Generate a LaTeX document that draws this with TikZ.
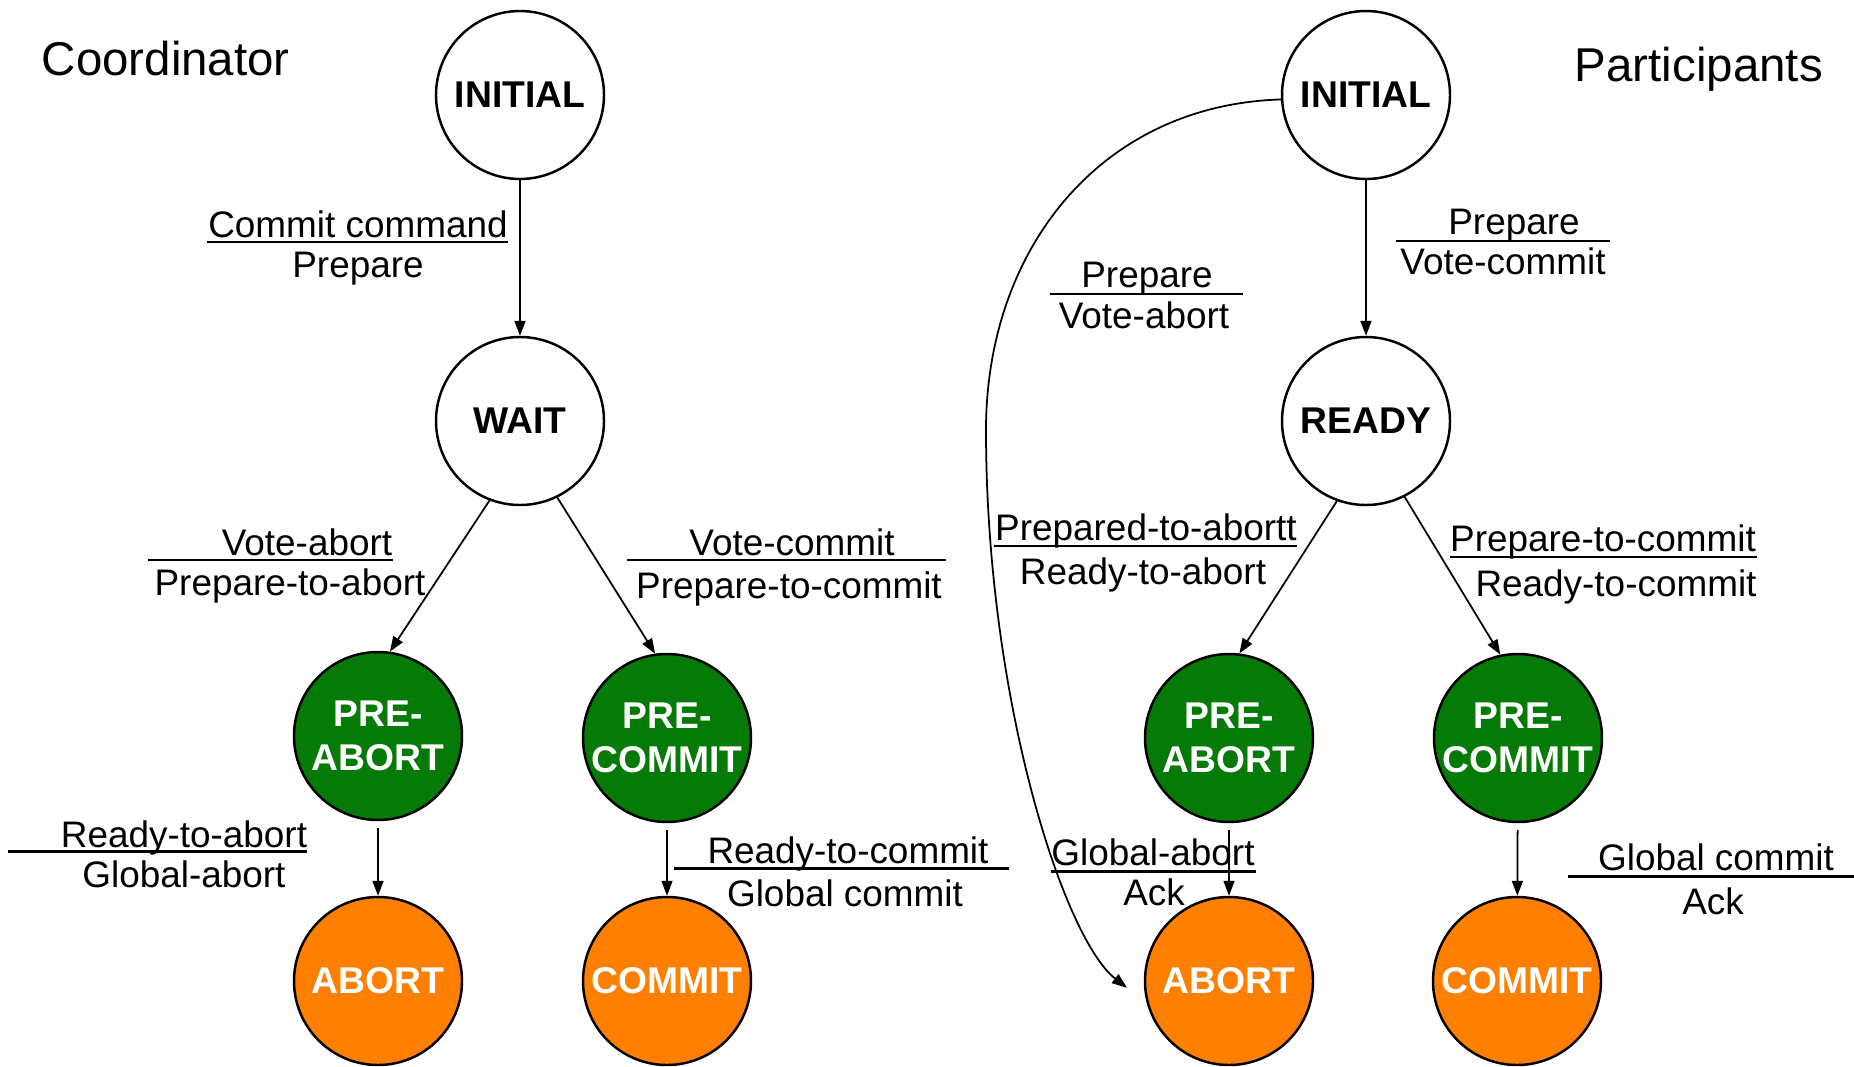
\documentclass[tikz,border=0pt]{standalone}
\usepackage{fontspec}
\setmainfont{Liberation Sans}
\usetikzlibrary{arrows.meta}
\definecolor{stategreen}{RGB}{6,122,6}
\definecolor{stateorange}{RGB}{255,128,0}
\tikzset{
  phase/.style={circle, draw=black, line width=0.7pt, minimum size=16.8mm, inner sep=0pt,
    align=center, font=\bfseries\fontsize{10.6}{12.5}\selectfont},
  prephase/.style={phase, fill=stategreen, text=white},
  endphase/.style={phase, fill=stateorange, text=white},
  msg/.style={font=\fontsize{10.5}{12}\selectfont, inner sep=0pt, text height=.95em, text depth=.23em},
  heading/.style={font=\fontsize{13.5}{16}\selectfont, anchor=west, inner sep=0pt},
  rule/.style={line width=0.85pt}
}
\begin{document}
\begin{tikzpicture}
[x=0.1mm, y=-0.1mm, >={Triangle[length=1.5mm,width=1.1mm]}, line width=0.5pt]
\useasboundingbox (0,0) rectangle (1854,1067);

\node[heading] (coord) at (41,59) {Coordinator};
\node[heading] (part) at (1574,69) {Participants};

% coordinator
\node[phase] (initL) at (520,95) {INITIAL};
\node[phase] (wait) at (520,421) {WAIT};
\node[prephase] (preabortL) at (378,736) {PRE-\\ABORT};
\node[prephase] (precommitL) at (667,738) {PRE-\\COMMIT};
\node[endphase] (abortL) at (378,981) {ABORT};
\node[endphase] (commitL) at (667,981) {COMMIT};

% participants
\node[phase] (initR) at (1366,95) {INITIAL};
\node[phase] (ready) at (1366,421) {READY};
\node[prephase] (preabortR) at (1229,738) {PRE-\\ABORT};
\node[prephase] (precommitR) at (1518,738) {PRE-\\COMMIT};
\node[endphase] (abortR) at (1229,981) {ABORT};
\node[endphase] (commitR) at (1517,981) {COMMIT};

\draw[->] (initL) -- (wait);
\draw[->] (wait.-111) -- (preabortL.82);
\draw[->] (wait.-64) -- (precommitL.98);
\draw[->, shorten <=0.7mm] (preabortL) -- (abortL);
\draw[->, shorten <=0.7mm] (precommitL) -- (commitL);

\draw[->] (initR) -- (ready);
\draw[->] (ready.-110) -- (preabortR.83);
\draw[->] (ready.-63) -- (precommitR.102);
\draw[->, shorten <=0.7mm] (preabortR) -- (abortR);
\draw[->, shorten <=0.7mm] (precommitR) -- (commitR);

\coordinate (bend) at (986,430);
\draw[->, shorten >=2.5mm] (initR.183) .. controls (1100,105) and (986,250) .. (bend)
  .. controls (986,700) and (1064,939) .. (abortR.195);

% labels
\node[msg] (l1a) at (358,225) {Commit command};
\node[msg] (l1b) at (358,265) {Prepare};
\draw[rule] (207,242) -- (508,242);

\node[msg] (l2a) at (307,543) {Vote-abort};
\node[msg] (l2b) at (290,583) {Prepare-to-abort};
\draw[rule] (148,560) -- (393,560);

\node[msg] (l3a) at (792,543) {Vote-commit};
\node[msg] (l3b) at (789,586) {Prepare-to-commit};
\draw[rule] (627,560) -- (946,560);

\node[msg] (l4a) at (184,835) {Ready-to-abort};
\node[msg] (l4b) at (184,875) {Global-abort};
\draw[rule] (8,851) -- (307,851);

\node[msg] (l5a) at (848,851) {Ready-to-commit};
\node[msg] (l5b) at (845,894) {Global commit};
\draw[rule] (674,868) -- (1009,868);

\node[msg] (r1a) at (1514,222) {Prepare};
\node[msg] (r1b) at (1503,262) {Vote-commit};
\draw[rule] (1396,241) -- (1610,241);

\node[msg] (r2a) at (1147,275) {Prepare};
\node[msg] (r2b) at (1144,316) {Vote-abort};
\draw[rule] (1050,294) -- (1243,294);

\node[msg] (r3a) at (1146,528) {Prepared-to-abortt};
\node[msg] (r3b) at (1143,572) {Ready-to-abort};
\draw[rule] (994,546) -- (1297,546);

\node[msg] (r4a) at (1603,539) {Prepare-to-commit};
\node[msg] (r4b) at (1616,584) {Ready-to-commit};
\draw[rule] (1450,557) -- (1757,557);

\node[msg] (r5a) at (1153,853) {Global-abort};
\node[msg] (r5b) at (1154,893) {Ack};
\draw[rule] (1051,871) -- (1256,871);

\node[msg] (r6a) at (1716,858) {Global commit};
\node[msg] (r6b) at (1713,902) {Ack};
\draw[rule] (1568,876) -- (1854,876);
\end{tikzpicture}
\end{document}
